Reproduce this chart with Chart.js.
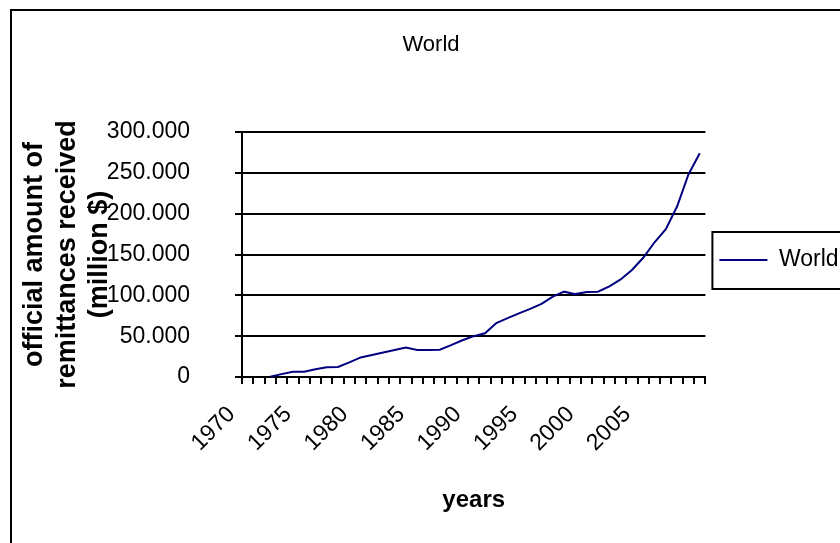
<!DOCTYPE html>
<html>
<head>
<meta charset="utf-8">
<style>
  html, body { margin: 0; padding: 0; background: #fff; }
  #wrap { width: 840px; height: 543px; position: relative; }
</style>
<script src="https://cdn.jsdelivr.net/npm/chart.js@4/dist/chart.umd.min.js"></script>
</head>
<body>
<div id="wrap"><canvas id="c" width="840" height="543"></canvas></div>
<script>
// ---- data ----
const years = ['1970','1971','1972','1973','1974','1975','1976','1977','1978','1979',
               '1980','1981','1982','1983','1984','1985','1986','1987','1988','1989',
               '1990','1991','1992','1993','1994','1995','1996','1997','1998','1999',
               '2000','2001','2002','2003','2004','2005','2006','2007','2008','2009','2010'];
const worldRemittances = [null, null, 400, 3500, 6500, 6500, 9500, 12000, 12200, 18000,
               24000, 27000, 30000, 33000, 36000, 33000, 33000, 33500, 39000, 45000,
               50000, 53500, 66000, 72000, 78000, 83500, 89500, 98500, 104500, 101500,
               104000, 104500, 111000, 119500, 131000, 146000, 165000, 181000, 209000, 248000, 274000];
const xTickLabels = ['1970','1975','1980','1985','1990','1995','2000','2005'];
const yTickValues = [0, 50000, 100000, 150000, 200000, 250000, 300000];
const seriesName = 'World';
const chartTitle = 'World';
const xTitle = 'years';
const yTitle = ['official amount of', 'remittances received', '(million $)'];

function fmtThousands(v) {
  return String(Math.round(v)).replace(/\B(?=(\d{3})+(?!\d))/g, '.');
}

const FONT = "'Liberation Sans', Arial, sans-serif";
Chart.defaults.color = '#000';
Chart.defaults.font.family = FONT;

const framePlugin = {
  id: 'frame',
  afterDraw(chart) {
    const ctx = chart.ctx;
    ctx.save();
    ctx.strokeStyle = '#000';
    ctx.lineWidth = 2;
    ctx.strokeRect(11, 10, 900, 600);
    const lg = chart.legend;
    if (lg && lg.legendHitBoxes && lg.legendHitBoxes.length) {
      const hb = lg.legendHitBoxes[0];
      const cy = hb.top + hb.height / 2;
      ctx.strokeRect(hb.left - 7, cy - 28, 200, 57);
    }
    ctx.restore();
  }
};

new Chart(document.getElementById('c'), {
  type: 'line',
  data: {
    labels: years,
    datasets: [{
      label: seriesName,
      data: worldRemittances,
      borderColor: '#000080',
      backgroundColor: '#000080',
      borderWidth: 2,
      pointRadius: 0,
      pointStyle: 'line',
      tension: 0,
      spanGaps: false,
      fill: false
    }]
  },
  options: {
    responsive: false,
    animation: false,
    devicePixelRatio: 1,
    layout: { padding: { left: 13.45, right: -8.55, top: 0, bottom: 23 } },
    plugins: {
      title: {
        display: true,
        text: chartTitle,
        font: { size: 22, weight: 'normal', family: FONT },
        color: '#000',
        padding: { top: 31.8, bottom: 73.8 }
      },
      legend: {
        display: true,
        position: 'right',
        labels: {
          usePointStyle: true,
          pointStyleWidth: 48,
          boxHeight: 10,
          padding: 14,
          color: '#000',
          font: { size: 23, family: FONT }
        }
      },
      tooltip: { enabled: false }
    },
    scales: {
      x: {
        type: 'category',
        offset: true,
        afterFit(scale) { scale.height = 143; },
        grid: {
          offset: true,
          drawOnChartArea: false,
          drawTicks: true,
          tickLength: 7,
          color: '#000',
          lineWidth: 2
        },
        border: { display: true, color: '#000', width: 2 },
        ticks: {
          autoSkip: false,
          maxRotation: 45,
          minRotation: 45,
          padding: 17,
          labelOffset: -16,
          font: { size: 23, family: FONT },
          color: '#000',
          callback(value, index) {
            const lab = years[index];
            return xTickLabels.includes(lab) ? lab : '';
          }
        },
        title: {
          display: true,
          text: xTitle,
          font: { size: 24, weight: 'bold', family: FONT },
          color: '#000',
          padding: { top: 0, bottom: 5.6 }
        }
      },
      y: {
        min: 0,
        max: 300000,
        afterFit(scale) { scale.width = 228.55; },
        afterBuildTicks(scale) { scale.ticks = yTickValues.map(v => ({ value: v })); },
        grid: {
          drawTicks: true,
          tickLength: 7,
          color: '#000',
          lineWidth: 2
        },
        border: { display: true, color: '#000', width: 2 },
        ticks: {
          padding: 45,
          font: { size: 23, family: FONT },
          color: '#000',
          callback(value) { return fmtThousands(value); }
        },
        title: {
          display: true,
          text: yTitle,
          font: { size: 27, weight: 'bold', family: FONT, lineHeight: 1.2 },
          color: '#000',
          padding: { top: 5.35, bottom: 0 }
        }
      }
    }
  },
  plugins: [framePlugin]
});
</script>
</body>
</html>
